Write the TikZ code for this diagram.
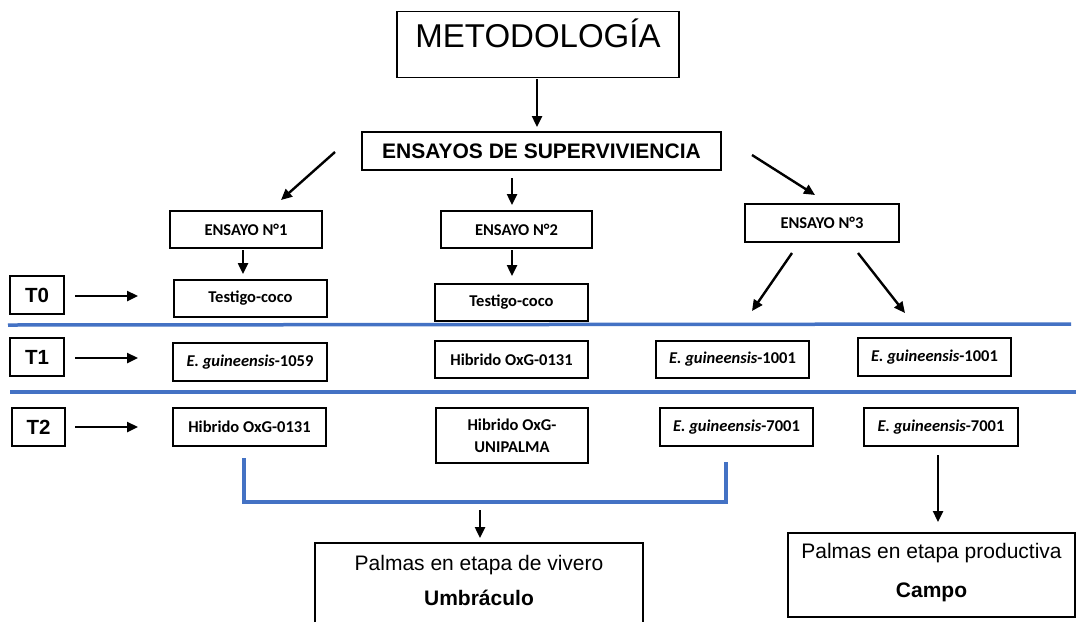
\documentclass[tikz,border=0pt]{standalone}
\usepackage{fontspec}
\setmainfont{Liberation Sans}
\newfontfamily\calfont{Carlito}
\usetikzlibrary{arrows.meta}
\definecolor{lineblue}{RGB}{68,114,196}
\begin{document}
\begin{tikzpicture}[x=1pt,y=-1pt,
 box/.style={draw=black,line width=1.2pt,inner sep=0pt,align=center},
 sbox/.style={box,font=\calfont\bfseries\fontsize{16.5}{22}\selectfont,minimum width=153pt,minimum height=37pt},
 tbox/.style={box,font=\bfseries\fontsize{20.5}{24}\selectfont,minimum width=54pt,minimum height=38pt},
 arr/.style={line width=2.4pt,-{Triangle[length=11pt,width=10pt]}},
 bluebar/.style={draw=lineblue,line width=3.5pt}
]
\useasboundingbox[fill=white] (0,0) rectangle (1078,622);

% top
\node[box,anchor=north,minimum width=282pt,text height=36pt,text depth=30pt,font=\fontsize{33}{36}\selectfont] (met) at (538,11) {METODOLOGÍA};
\node[box,minimum width=359pt,minimum height=38pt,font=\bfseries\fontsize{21}{24}\selectfont] (sup) at (541.5,151) {ENSAYOS DE SUPERVIVIENCIA};

% ensayos
\node[sbox,minimum width=152pt] (e1) at (246,229.5) {ENSAYO N°1};
\node[sbox,minimum width=151pt] (e2) at (516.5,229.5) {ENSAYO N°2};
\node[sbox,minimum width=154pt,minimum height=38pt] (e3) at (822,223) {ENSAYO N°3};

% T labels
\node[tbox] (t0) at (37,295) {T0};
\node[tbox] (t1) at (37,357) {T1};
\node[tbox,minimum width=53pt] (t2) at (38.5,427) {T2};

% row T0
\node[sbox] (tc1) at (250.5,298.5) {Testigo-coco};
\node[sbox] (tc2) at (511.5,302.5) {Testigo-coco};

% row T1
\node[sbox,minimum width=154pt,minimum height=38pt] (g1059) at (250,362) {\textit{E. guineensis}-1059};
\node[sbox] (h0131a) at (511.5,359.5) {Hibrido OxG-0131};
\node[sbox] (g1001a) at (732.5,359.5) {\textit{E. guineensis}-1001};
\node[sbox,minimum height=38pt] (g1001b) at (934.5,357) {\textit{E. guineensis}-1001};

% row T2
\node[sbox,minimum height=38pt] (h0131b) at (249.5,427) {Hibrido OxG-0131};
\node[sbox,minimum width=152pt,minimum height=55pt] (uni) at (512,435.5) {Hibrido OxG-\\UNIPALMA};
\node[sbox,minimum height=38pt] (g7001a) at (736.5,427) {\textit{E. guineensis}-7001};
\node[sbox,minimum width=154pt,minimum height=38pt] (g7001b) at (941,427) {\textit{E. guineensis}-7001};

% bottom boxes
\draw[line width=1.2pt] (315,622) -- (315,543) -- (643,543) -- (643,622);
\node[anchor=base,font=\fontsize{21}{24}\selectfont] (vivA) at (479,570) {Palmas en etapa de vivero};
\node[anchor=base,font=\bfseries\fontsize{21}{24}\selectfont] (vivB) at (479,605) {Umbráculo};
\draw[line width=1.2pt] (788,533) rectangle (1075,617);
\node[anchor=base,font=\fontsize{21}{24}\selectfont] (campA) at (931.5,558) {Palmas en etapa productiva};
\node[anchor=base,font=\bfseries\fontsize{21}{24}\selectfont] (campB) at (931.5,597) {Campo};

% blue separators
\coordinate (l1a) at (8,325); \coordinate (l1b) at (1071,324);
\coordinate (l2a) at (10,392); \coordinate (l2b) at (1076,392);
\draw[bluebar] (l1a) -- (l1b);
\draw[bluebar] (l2a) -- (l2b);
\coordinate (bl) at (244,458); \coordinate (br) at (726,462);
\draw[bluebar,line join=miter] (bl) -- (244,502) -- (726,502) -- (br);

% arrows (free ends)
\coordinate (a0s) at (537,79);  \coordinate (a0e) at (537,127);
\coordinate (a1s) at (335,152); \coordinate (a1e) at (281,200);
\coordinate (a2s) at (512,178); \coordinate (a2e) at (512,205);
\coordinate (a3s) at (752,155); \coordinate (a3e) at (815,195);
\coordinate (a4s) at (243,250); \coordinate (a4e) at (243,274);
\coordinate (a5s) at (512,250); \coordinate (a5e) at (512,276);
\coordinate (a6s) at (792,253); \coordinate (a6e) at (752,311);
\coordinate (a7s) at (858,253); \coordinate (a7e) at (905,313);
\coordinate (t0s) at (75,296);  \coordinate (t0e) at (138,296);
\coordinate (t1s) at (75,358);  \coordinate (t1e) at (138,358);
\coordinate (t2s) at (75,427);  \coordinate (t2e) at (138,427);
\coordinate (a8s) at (480,510); \coordinate (a8e) at (480,538);
\coordinate (a9s) at (938,455); \coordinate (a9e) at (938,522);
\foreach \s/\e in {a0s/a0e,a1s/a1e,a2s/a2e,a3s/a3e,a4s/a4e,a5s/a5e,a6s/a6e,a7s/a7e,t0s/t0e,t1s/t1e,t2s/t2e,a8s/a8e,a9s/a9e}
  \draw[arr] (\s) -- (\e);
\end{tikzpicture}
\end{document}
